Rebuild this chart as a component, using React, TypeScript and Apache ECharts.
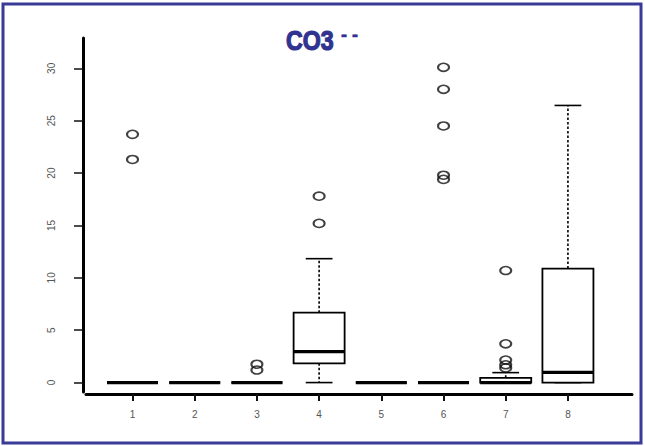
import React, { useEffect, useRef } from "react";
import * as echarts from "echarts";

// Group numbers shown on the x axis
const groups = [1, 2, 3, 4, 5, 6, 7, 8];
// Box statistics per group: [lower whisker, Q1, median, Q3, upper whisker]
const lowerWhisker = [0, 0, 0, 0, 0, 0, 0, 0];
const q1Values = [0, 0, 0, 1.84, 0, 0, 0, 0];
const medianValues = [0, 0, 0, 2.95, 0, 0, 0, 0.98];
const q3Values = [0, 0, 0, 6.67, 0, 0, 0.45, 10.88];
const upperWhisker = [0, 0, 0, 11.83, 0, 0, 0.95, 26.46];
// Outliers (group, value)
const outlierGroups = [1, 1, 3, 3, 4, 4, 6, 6, 6, 6, 6, 7, 7, 7, 7, 7];
const outlierValues = [23.7, 21.3, 1.75, 1.2, 17.8, 15.2, 30.1, 28.0, 24.5, 19.8, 19.4, 10.7, 3.7, 2.15, 1.7, 1.4];
const yTicks = [0, 5, 10, 15, 20, 25, 30];
const titleMain = "CO3";
const titleSup = "- -";

const FONT = "'Liberation Sans', Arial, Helvetica, sans-serif";
const BLUE = "#30338f";

export default function App() {
  const ref = useRef<HTMLDivElement>(null);
  useEffect(() => {
    if (!ref.current) return;
    const chart = echarts.init(ref.current, null, { renderer: "svg" });
    const boxData = groups.map((g, i) => [
      g,
      lowerWhisker[i],
      q1Values[i],
      medianValues[i],
      q3Values[i],
      upperWhisker[i],
    ]);
    const outlierData = outlierGroups.map((g, i) => [g, outlierValues[i]]);

    chart.setOption({
      animation: false,
      backgroundColor: "#ffffff",
      grid: { left: 86, right: 13, top: 38, bottom: 54, containLabel: false },
      xAxis: {
        type: "value",
        min: 0.2524,
        max: 9.03,
        offset: 2,
        splitLine: { show: false },
        axisLine: { show: true, onZero: false, lineStyle: { color: "#000", width: 3 } },
        axisTick: { show: true, length: 7, customValues: groups, lineStyle: { color: "#111", width: 2 } },
        axisLabel: {
          customValues: groups,
          margin: 15,
          color: "#555",
          fontSize: 10,
          fontFamily: FONT,
        },
      },
      yAxis: {
        type: "value",
        min: -0.9,
        max: 32.9,
        offset: 3,
        splitLine: { show: false },
        axisLine: { show: true, onZero: false, lineStyle: { color: "#000", width: 3 } },
        axisTick: { show: true, length: 9, customValues: yTicks, lineStyle: { color: "#111", width: 1.5 } },
        axisLabel: {
          customValues: yTicks,
          rotate: 90,
          margin: 27,
          color: "#555",
          fontSize: 10,
          fontFamily: FONT,
        },
      },
      graphic: [
        {
          type: "rect",
          shape: { x: 3, y: 4, width: 638, height: 439 },
          style: { fill: "none", stroke: "#3a3a98", lineWidth: 3 },
          silent: true,
        },
        {
          type: "text",
          x: 286,
          y: 40,
          scaleX: 0.86,
          style: {
            text: titleMain,
            fill: BLUE,
            stroke: BLUE,
            lineWidth: 1.2,
            font: `bold 27px ${FONT}`,
            textAlign: "left",
            textVerticalAlign: "middle",
          },
        },
        {
          type: "text",
          x: 341,
          y: 34,
          scaleX: 0.95,
          style: {
            text: titleSup,
            fill: BLUE,
            stroke: BLUE,
            lineWidth: 0.6,
            font: `bold 19px ${FONT}`,
            textAlign: "left",
            textVerticalAlign: "middle",
          },
        },
      ],
      series: [
        {
          type: "custom",
          data: boxData,
          encode: { x: 0, y: [1, 2, 3, 4, 5] },
          z: 2,
          renderItem: (params: any, api: any) => {
            const x = api.value(0);
            const lo = api.coord([x, api.value(1)]);
            const q1 = api.coord([x, api.value(2)]);
            const med = api.coord([x, api.value(3)]);
            const q3 = api.coord([x, api.value(4)]);
            const hi = api.coord([x, api.value(5)]);
            const halfW = api.size([0.41, 0])[0];
            const capW = api.size([0.215, 0])[0];
            const cx = lo[0];
            const dash = { stroke: "#000", lineWidth: 1.6, lineDash: [2.5, 2] };
            const solid = { stroke: "#000", lineWidth: 1.6 };
            const children: any[] = [];
            if (hi[1] < q3[1] - 0.5) {
              children.push({ type: "line", shape: { x1: cx, y1: q3[1], x2: cx, y2: hi[1] }, style: dash });
            }
            if (lo[1] > q1[1] + 0.5) {
              children.push({ type: "line", shape: { x1: cx, y1: q1[1], x2: cx, y2: lo[1] }, style: dash });
            }
            children.push({ type: "line", shape: { x1: cx - capW, y1: hi[1], x2: cx + capW, y2: hi[1] }, style: solid });
            children.push({ type: "line", shape: { x1: cx - capW, y1: lo[1], x2: cx + capW, y2: lo[1] }, style: solid });
            children.push({
              type: "rect",
              shape: { x: cx - halfW, y: q3[1], width: 2 * halfW, height: q1[1] - q3[1] },
              style: { fill: "#fff", stroke: "#000", lineWidth: 1.8 },
            });
            children.push({
              type: "line",
              shape: { x1: cx - halfW, y1: med[1], x2: cx + halfW, y2: med[1] },
              style: { stroke: "#000", lineWidth: 3.2 },
            });
            return { type: "group", children };
          },
        },
        {
          type: "scatter",
          data: outlierData,
          symbol: "circle",
          symbolSize: [11, 8],
          z: 3,
          itemStyle: { color: "rgba(0,0,0,0)", borderColor: "#111", borderWidth: 1.8 },
        },
      ],
    });
    return () => chart.dispose();
  }, []);
  return (
    <div
      ref={ref}
      style={{ position: "fixed", left: 0, top: 0, width: 645, height: 446, background: "#fff" }}
    />
  );
}
